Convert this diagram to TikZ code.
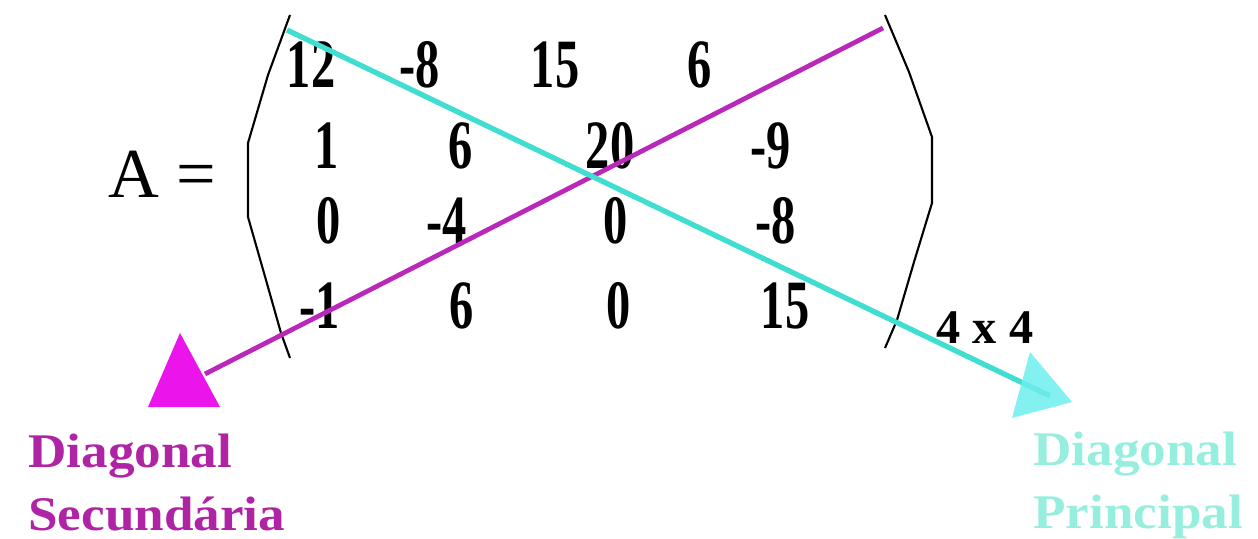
\documentclass[tikz,border=0pt]{standalone}
\usepackage{fontspec}
\setmainfont{Liberation Serif}
\newfontfamily\numfont[FakeStretch=0.7]{Liberation Serif}
\newfontfamily\labfont[FakeStretch=1.1]{Liberation Serif}
\definecolor{magline}{RGB}{185,40,185}
\definecolor{maghead}{RGB}{235,20,235}
\definecolor{magtext}{RGB}{175,35,165}
\definecolor{cyanline}{RGB}{64,222,208}
\definecolor{cyanhead}{RGB}{110,238,238}
\definecolor{cyantext}{RGB}{150,238,222}
\begin{document}
\begin{tikzpicture}[x=0.02cm,y=-0.02cm,
  num/.style={anchor=base,inner sep=0pt,font=\numfont\bfseries\fontsize{39.4}{40}\selectfont},
  eqtext/.style={anchor=base,inner sep=0pt,font=\fontsize{40}{42}\selectfont},
  dimtext/.style={anchor=base,inner sep=0pt,font=\bfseries\fontsize{27.5}{30}\selectfont},
  labtext/.style={anchor=base west,inner sep=0pt,font=\labfont\bfseries\fontsize{27.5}{30}\selectfont},
  paren/.style={draw=black,line width=1.2pt,line join=round},
  magdiag/.style={draw=magline,line width=2.7pt},
  cyandiag/.style={draw=cyanline,line width=3pt}]
\useasboundingbox (0,0) rectangle (1258,538);
% A =
\node[eqtext] (lhs) at (162,197) {A =};
% matrix entries
\node[num] (a11) at (311,87) {12};
\node[num] (a12) at (420,87) {-8};
\node[num] (a13) at (555,87) {15};
\node[num] (a14) at (700,87) {6};
\node[num] (a21) at (327,168) {1};
\node[num] (a22) at (461,168) {6};
\node[num] (a23) at (610,168) {20};
\node[num] (a24) at (771,168) {-9};
\node[num] (a31) at (329,243) {0};
\node[num] (a32) at (447,243) {-4};
\node[num] (a33) at (616,243) {0};
\node[num] (a34) at (776,243) {-8};
\node[num] (a41) at (320,328) {-1};
\node[num] (a42) at (462,328) {6};
\node[num] (a43) at (619,328) {0};
\node[num] (a44) at (785,328) {15};
% parentheses
\draw[paren] (290,15) -- (268,75) -- (248,143) -- (248,217) -- (266,280) -- (281,333) -- (290,358);
\draw[paren] (885,15) -- (909,72) -- (932,137) -- (932,203) -- (914,262) -- (897,320) -- (885,348);
% order
\node[dimtext] (dim) at (985,343) {4 x 4};
% secondary diagonal
\coordinate (ms) at (883,28);
\coordinate (me) at (205,374);
\draw[magdiag] (ms) -- (me);
\fill[maghead] (180,333) -- (220,407) -- (148,407) -- cycle;
% main diagonal
\coordinate (cs) at (287,30);
\coordinate (ce) at (1050,396);
\draw[cyandiag] (cs) -- (ce);
\fill[cyanhead,opacity=0.85] (1030,352) -- (1072,402) -- (1012,418) -- cycle;
% labels
\node[labtext,text=magtext] (sec1) at (28,467) {Diagonal};
\node[labtext,text=magtext] (sec2) at (28,530) {Secundária};
\node[labtext,text=cyantext] (pri1) at (1033,465) {Diagonal};
\node[labtext,text=cyantext] (pri2) at (1033,528) {Principal};
\end{tikzpicture}
\end{document}
